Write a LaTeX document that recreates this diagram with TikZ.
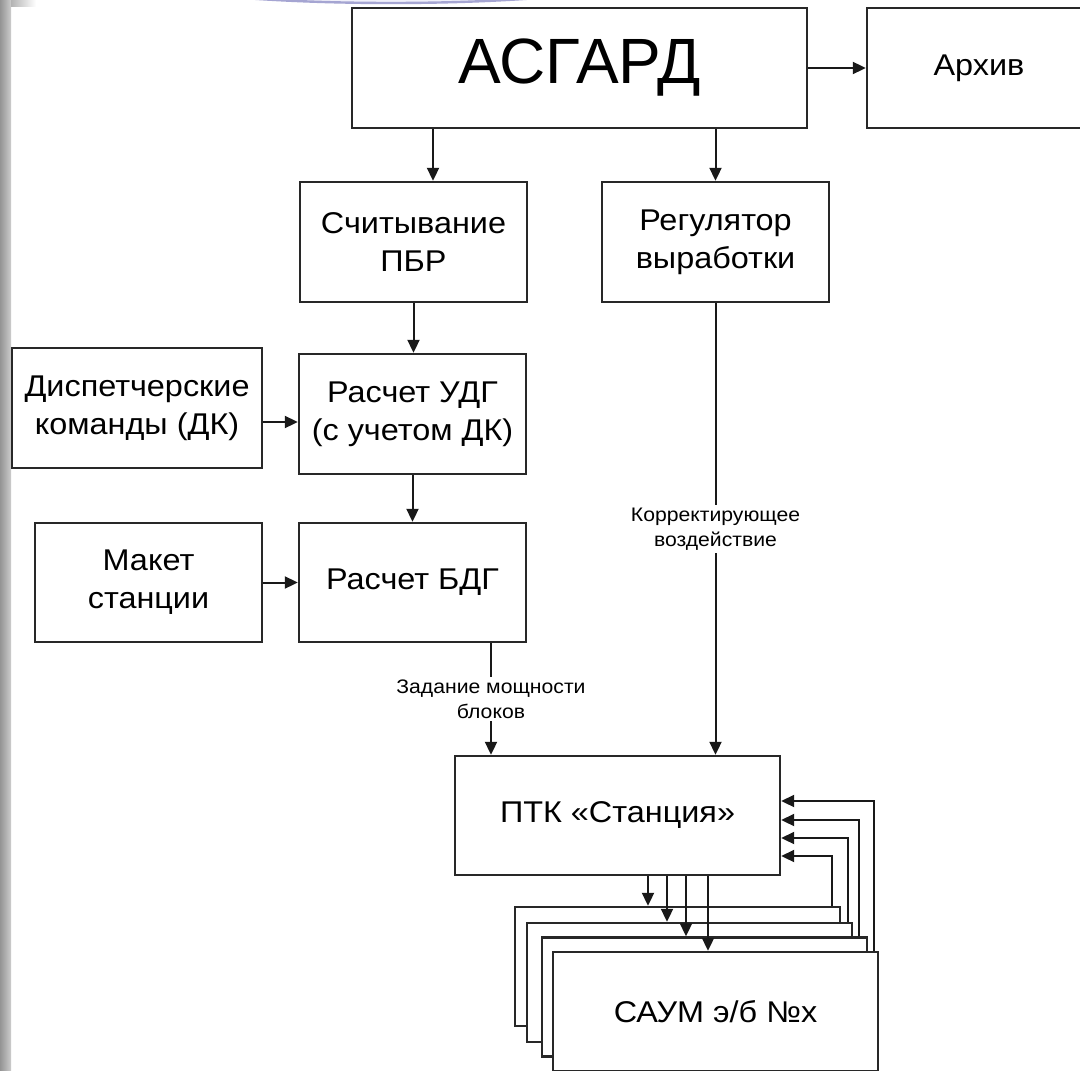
\documentclass[tikz,border=0pt]{standalone}
\usepackage{fontspec}
\setmainfont{Liberation Sans}
\newfontfamily\widefont{Liberation Sans}[FakeStretch=1.08]
\usetikzlibrary{arrows.meta,calc}
\definecolor{framec}{RGB}{40,40,40}
\definecolor{arcline}{RGB}{165,165,210}
\definecolor{arcfill}{RGB}{240,240,250}
\begin{document}
\begin{tikzpicture}[x=0.5pt,y=-0.5pt,
  box/.style={draw=framec, line width=1.2pt, fill=white, align=center, inner sep=0pt,
    font=\widefont\fontsize{15}{19}\selectfont},
  arr/.style={draw=black!90, line width=1pt, -{Triangle[length=6.5pt,width=6pt]}},
  lbl/.style={fill=white, align=center, inner sep=1.5pt,
    font=\widefont\fontsize{9.8}{12.5}\selectfont}]
\useasboundingbox (0,0) rectangle (1080,1070);
\fill[white] (0,0) rectangle (1080,1070);
% slide decorations
\shade[left color=black!42, right color=black!20] (0,0) rectangle (11,1070);
\shade[left color=black!30, right color=white] (11,0) rectangle (36,7);
\draw[arcline, line width=1.2pt, fill=arcfill] (391,-36) ellipse [x radius=300, y radius=39];
% top row
\node[box, minimum width=227.5pt, minimum height=60pt, font=\fontsize{32}{36}\selectfont] (asgard) at (579.5,68) {АСГАРД};
\node[box, minimum width=112pt, minimum height=60pt] (arhiv) at (979,68) {Архив};
% second row
\node[box, minimum width=113.5pt, minimum height=60pt] (schit) at (413.5,242) {Считывание\\ПБР};
\node[box, minimum width=113.5pt, minimum height=60pt] (regul) at (715.5,242) {Регулятор\\выработки};
% third row
\node[box, minimum width=125pt, minimum height=60pt] (disp) at (137,408) {Диспетчерские\\команды (ДК)};
\node[box, minimum width=113.5pt, minimum height=60pt] (udg) at (412.5,414) {Расчет УДГ\\(с учетом ДК)};
% fourth row
\node[box, minimum width=113.5pt, minimum height=59.5pt] (maket) at (148.5,582.5) {Макет\\станции};
\node[box, minimum width=113.5pt, minimum height=59.5pt] (bdg) at (412.5,582.5) {Расчет БДГ};
% station
\node[box, minimum width=162.5pt, minimum height=59.5pt] (ptk) at (617.5,815.5) {ПТК «Станция»};
% stack
\node[box, minimum width=162.5pt, minimum height=59.5pt] (saum1) at (677.5,966.5) {};
\node[box, minimum width=162.5pt, minimum height=59.5pt] (saum2) at (689.5,982.5) {};
\node[box, minimum width=162.5pt, minimum height=59.5pt] (saum3) at (704.5,997) {};
\node[box, minimum width=162.5pt, minimum height=59.5pt] (saum4) at (715.5,1011.5) {САУМ э/б №х};
% connectors
\draw[arr] (asgard.east) -- (arhiv.west);
\path ([xshift=9.75pt]schit.north) coordinate (s1);
\draw[arr] (asgard.south -| s1) -- (s1);
\draw[arr] (asgard.south -| regul.north) -- (regul.north);
\draw[arr] (schit.south) -- (schit.south |- udg.north);
\draw[arr] (udg.south) -- (bdg.north);
\path ([yshift=-7pt]disp.east) coordinate (d1);
\draw[arr] (d1) -- (udg.west |- d1);
\draw[arr] (maket.east) -- (bdg.west);
\path ([xshift=39.25pt]bdg.south) coordinate (b1);
\draw[arr] (b1) -- node[lbl]{Задание мощности\\блоков} (b1 |- ptk.north);
\draw[arr] (regul.south) -- node[lbl]{Корректирующее\\воздействие} (regul.south |- ptk.north);
% down arrows to units
\path ([xshift=15.25pt]ptk.south) coordinate (p1);
\path ([xshift=24.75pt]ptk.south) coordinate (p2);
\path ([xshift=34.25pt]ptk.south) coordinate (p3);
\path ([xshift=45.25pt]ptk.south) coordinate (p4);
\draw[arr] (p1) -- (p1 |- saum1.north);
\draw[arr] (p2) -- (p2 |- saum2.north);
\draw[arr] (p3) -- (p3 |- saum3.north);
\draw[arr] (p4) -- (p4 |- saum4.north);
% return arrows
\draw[arr] ([xshift=77.25pt]saum1.north) |- ([yshift=-20.25pt]ptk.east);
\draw[arr] ([xshift=79.25pt]saum2.north) |- ([yshift=-11.25pt]ptk.east);
\draw[arr] ([xshift=77.25pt]saum3.north) |- ([yshift=-2.25pt]ptk.east);
\draw[arr] ([xshift=79.25pt]saum4.north) |- ([yshift=7.25pt]ptk.east);
\end{tikzpicture}
\end{document}
